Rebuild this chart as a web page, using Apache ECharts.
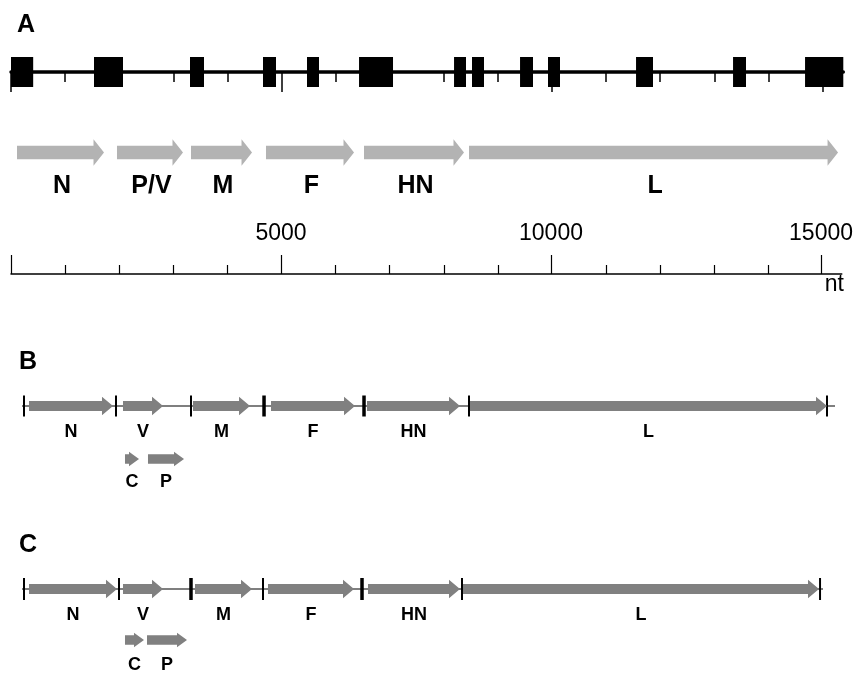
<!DOCTYPE html>
<html><head><meta charset="utf-8">
<script src="https://cdn.jsdelivr.net/npm/echarts@6/dist/echarts.min.js"></script>
<style>html,body{margin:0;padding:0;background:#fff}#c{width:856px;height:675px}</style>
</head><body><div id="c"></div>
<script>
// ---------------- data (nucleotide positions) ----------------
const genomeLength = 15384;
// Panel A
const boxStartA = [0, 1534, 3309, 4658, 5471, 6433, 8189, 8521, 9409, 9926, 11553, 13346, 14677];
const boxEndA   = [410, 2070, 3567, 4898, 5693, 7061, 8410, 8743, 9649, 10148, 11867, 13586, 15384];
const genesA     = ['N', 'P/V', 'M', 'F', 'HN', 'L'];
const geneStartA = [111, 1959, 3327, 4713, 6525, 8466];
const geneEndA   = [1719, 3179, 4455, 6340, 8373, 15287];
const majorTicks = [0, 5000, 10000, 15000];
const minorTicks = [1000, 2000, 3000, 4000, 6000, 7000, 8000, 9000, 11000, 12000, 13000, 14000];
const scaleLabels = [5000, 10000, 15000];
const scaleUnit = 'nt';
// Panel B
const genesB     = ['N', 'V', 'M', 'F', 'HN', 'L'];
const geneStartB = [333, 2070, 3364, 4806, 6580, 8484];
const geneEndB   = [1885, 2810, 4418, 6359, 8299, 15083];
const subGenesB  = ['C', 'P'];
const subStartB  = [2107, 2532];
const subEndB    = [2366, 3198];
const junctionsB = [240, 1941, 3327, 8466, 15083];
const boldJunctionsB = [4677, 6525];
const spanB = [203, 15231];
// Panel C
const genesC     = ['N', 'V', 'M', 'F', 'HN', 'L'];
const geneStartC = [333, 2070, 3401, 4750, 6599, 8355];
const geneEndC   = [1959, 2810, 4455, 6340, 8299, 14935];
const subGenesC  = ['C', 'P'];
const subStartC  = [2107, 2514];
const subEndC    = [2458, 3253];
const junctionsC = [240, 1996, 4658, 8336, 14954];
const boldJunctionsC = [3327, 6488];
const spanC = [203, 15009];
const panelLetters = ['A', 'B', 'C'];

// ---------------- layout / style ----------------
const FONT = '"Liberation Sans", Arial, Helvetica, sans-serif';
const PLOT = {left: 11, width: 832.3};
const ROW = {
  boxA: 72, arrowA: 152.5, labelA: 186.5,
  trackB: 406, labelB: 432, subB: 459, subLabelB: 482,
  trackC: 589, labelC: 615, subC: 640, subLabelC: 665
};

function arrowPoly(x0, x1, y, body, head, headLen) {
  const xh = Math.max(x0, x1 - headLen);
  return [[x0, y - body / 2], [xh, y - body / 2], [xh, y - head / 2], [x1, y],
          [xh, y + head / 2], [xh, y + body / 2], [x0, y + body / 2]];
}

function arrowSeries(starts, ends, names, rowY, labelY, st) {
  return {
    type: 'custom', xAxisIndex: 0, yAxisIndex: 0, silent: true, clip: false,
    encode: {x: [0, 1], y: 2},
    data: starts.map((s, i) => [s, ends[i], i]),
    renderItem(params, api) {
      const p0 = api.coord([api.value(0), rowY]);
      const p1 = api.coord([api.value(1), rowY]);
      const ly = api.coord([0, labelY])[1];
      return {
        type: 'group',
        children: [
          {type: 'polygon', shape: {points: arrowPoly(p0[0], p1[0], p0[1], st.body, st.head, st.headLen)},
           style: {fill: st.color}},
          {type: 'text', x: (p0[0] + p1[0]) / 2 + (st.dx || 0), y: ly,
           style: {text: names[api.value(2)], fill: '#000', font: 'bold ' + st.fontSize + 'px ' + FONT,
                   align: 'center', verticalAlign: 'middle'}}
        ]
      };
    }
  };
}

function boxSeries(starts, ends, rowY, h) {
  return {
    type: 'custom', xAxisIndex: 0, yAxisIndex: 0, silent: true, clip: false,
    encode: {x: [0, 1], y: 2},
    data: starts.map((s, i) => [s, ends[i], i]),
    renderItem(params, api) {
      const p0 = api.coord([api.value(0), rowY]);
      const p1 = api.coord([api.value(1), rowY]);
      return {type: 'rect', shape: {x: p0[0], y: p0[1] - h / 2, width: p1[0] - p0[0], height: h},
              style: {fill: '#000'}};
    }
  };
}

function lineSeries(span, rowY) {
  return {
    type: 'custom', xAxisIndex: 0, yAxisIndex: 0, silent: true, clip: false,
    encode: {x: [0, 1], y: 2},
    data: [[span[0], span[1], 0]],
    renderItem(params, api) {
      const p0 = api.coord([api.value(0), rowY]);
      const p1 = api.coord([api.value(1), rowY]);
      return {type: 'line', shape: {x1: p0[0], y1: p0[1], x2: p1[0], y2: p1[1]},
              style: {stroke: '#000', lineWidth: 1.2}};
    }
  };
}

function tickSeries(values, rowY, half, width) {
  return {
    type: 'custom', xAxisIndex: 0, yAxisIndex: 0, silent: true, clip: false, z: 1,
    encode: {x: 0, y: 1},
    data: values.map((v, i) => [v, i]),
    renderItem(params, api) {
      const p = api.coord([api.value(0), rowY]);
      return {type: 'rect', shape: {x: p[0] - width / 2, y: p[1] - half, width: width, height: half * 2},
              style: {fill: '#000'}};
    }
  };
}

const styleA = {body: 13.3, head: 26.7, headLen: 10.5, color: '#b3b3b3', fontSize: 25, dx: 1.5};
const styleBC = {body: 10, head: 18.5, headLen: 11, color: '#808080', fontSize: 18};
const styleSub = {body: 9.3, head: 14.5, headLen: 10, color: '#808080', fontSize: 18};

const hiddenY = i => ({type: 'value', gridIndex: i, show: false});

const option = {
  animation: false,
  backgroundColor: '#fff',
  grid: [
    {left: PLOT.left, width: PLOT.width, top: 0, height: 675},
    {left: PLOT.left, width: PLOT.width, top: 62, height: 10},
    {left: PLOT.left, width: PLOT.width, top: 62, height: 10},
    {left: PLOT.left, width: PLOT.width, top: 264, height: 10},
    {left: PLOT.left, width: PLOT.width, top: 264, height: 10}
  ],
  xAxis: [
    {type: 'value', gridIndex: 0, min: 0, max: genomeLength, show: false},
    {type: 'value', gridIndex: 1, min: 0, max: genomeLength, position: 'bottom',
     axisLine: {show: true, lineStyle: {color: '#000', width: 3.5}},
     axisTick: {show: true, customValues: majorTicks, length: 20, lineStyle: {color: '#000', width: 1.5}},
     axisLabel: {show: false}, splitLine: {show: false}},
    {type: 'value', gridIndex: 2, min: 0, max: genomeLength, position: 'bottom',
     axisLine: {show: false},
     axisTick: {show: true, customValues: minorTicks, length: 10, lineStyle: {color: '#000', width: 1.5}},
     axisLabel: {show: false}, splitLine: {show: false}},
    {type: 'value', gridIndex: 3, min: 0, max: genomeLength, position: 'top',
     axisLine: {show: true, lineStyle: {color: '#000', width: 1.5}},
     axisTick: {show: true, customValues: majorTicks, length: 19, lineStyle: {color: '#000', width: 1.2}},
     axisLabel: {show: true, customValues: scaleLabels, margin: 19, color: '#000', fontSize: 23, fontFamily: FONT,
                 formatter: v => String(v)},
     splitLine: {show: false}},
    {type: 'value', gridIndex: 4, min: 0, max: genomeLength, position: 'top',
     axisLine: {show: false},
     axisTick: {show: true, customValues: minorTicks, length: 9, lineStyle: {color: '#000', width: 1.2}},
     axisLabel: {show: false}, splitLine: {show: false}}
  ],
  yAxis: [
    {type: 'value', gridIndex: 0, min: 0, max: 675, inverse: true, show: false},
    hiddenY(1), hiddenY(2), hiddenY(3), hiddenY(4)
  ],
  graphic: [
    {type: 'text', x: 17, y: 25, style: {text: panelLetters[0], font: 'bold 25px ' + FONT, fill: '#000', verticalAlign: 'middle'}},
    {type: 'text', x: 19, y: 362, style: {text: panelLetters[1], font: 'bold 25px ' + FONT, fill: '#000', verticalAlign: 'middle'}},
    {type: 'text', x: 19, y: 545, style: {text: panelLetters[2], font: 'bold 25px ' + FONT, fill: '#000', verticalAlign: 'middle'}},
    {type: 'text', x: 844, y: 285, style: {text: scaleUnit, font: '23px ' + FONT, fill: '#000', align: 'right', verticalAlign: 'middle'}}
  ],
  series: [
    boxSeries(boxStartA, boxEndA, ROW.boxA, 30),
    arrowSeries(geneStartA, geneEndA, genesA, ROW.arrowA, ROW.labelA, styleA),
    lineSeries(spanB, ROW.trackB),
    tickSeries(junctionsB, ROW.trackB, 10.5, 2),
    tickSeries(boldJunctionsB, ROW.trackB, 10.5, 3.5),
    arrowSeries(geneStartB, geneEndB, genesB, ROW.trackB, ROW.labelB, styleBC),
    arrowSeries(subStartB, subEndB, subGenesB, ROW.subB, ROW.subLabelB, styleSub),
    lineSeries(spanC, ROW.trackC),
    tickSeries(junctionsC, ROW.trackC, 11, 2),
    tickSeries(boldJunctionsC, ROW.trackC, 11, 3.5),
    arrowSeries(geneStartC, geneEndC, genesC, ROW.trackC, ROW.labelC, styleBC),
    arrowSeries(subStartC, subEndC, subGenesC, ROW.subC, ROW.subLabelC, styleSub)
  ]
};

const chart = echarts.init(document.getElementById('c'), null, {renderer: 'canvas'});
chart.setOption(option);
</script>
</body></html>
